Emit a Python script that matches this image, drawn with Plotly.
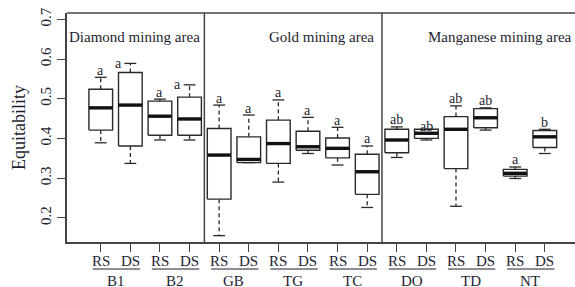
import plotly.graph_objects as go

# ---------------- data ----------------
groups = ["B1", "B2", "GB", "TG", "TC", "DO", "TD", "NT"]
sites = ["RS", "DS"]
areas = ["Diamond mining area", "Gold mining area", "Manganese mining area"]

whisk_low = [0.389, 0.337, 0.396, 0.396, 0.155, 0.339, 0.290, 0.362,
             0.333, 0.226, 0.352, 0.396, 0.229, 0.421, 0.299, 0.362]
q1 = [0.421, 0.381, 0.408, 0.408, 0.247, 0.339, 0.337, 0.370,
      0.351, 0.259, 0.364, 0.400, 0.324, 0.427, 0.305, 0.377]
median = [0.477, 0.484, 0.456, 0.449, 0.358, 0.347, 0.387, 0.379,
          0.375, 0.316, 0.396, 0.413, 0.423, 0.452, 0.312, 0.404]
q3 = [0.524, 0.566, 0.494, 0.504, 0.425, 0.404, 0.446, 0.418,
      0.401, 0.360, 0.423, 0.423, 0.455, 0.475, 0.322, 0.420]
whisk_high = [0.554, 0.589, 0.499, 0.535, 0.484, 0.459, 0.497, 0.453,
              0.428, 0.381, 0.429, 0.423, 0.482, 0.477, 0.328, 0.423]
letters = ["a", "a", "a", "a", "a", "a", "a", "a",
           "a", "a", "ab", "ab", "ab", "ab", "a", "b"]

# ---------------- style ----------------
FONT = "Liberation Serif"
TXT = "#1e1e30"
LINE = "#2a2a2a"
BOXW = 0.4   # half box width
CAPW = 0.2   # half staple width

n = len(median)
pos = list(range(1, n + 1))

box_x, box_y = [], []
med_x, med_y = [], []
wh_x, wh_y = [], []
cap_x, cap_y = [], []
for i, p in enumerate(pos):
    box_x += [p - BOXW, p + BOXW, p + BOXW, p - BOXW, p - BOXW, None]
    box_y += [q1[i], q1[i], q3[i], q3[i], q1[i], None]
    med_x += [p - BOXW, p + BOXW, None]
    med_y += [median[i], median[i], None]
    wh_x += [p, p, None, p, p, None]
    wh_y += [q3[i], whisk_high[i], None, q1[i], whisk_low[i], None]
    cap_x += [p - CAPW, p + CAPW, None, p - CAPW, p + CAPW, None]
    cap_y += [whisk_high[i], whisk_high[i], None, whisk_low[i], whisk_low[i], None]

fig = go.Figure()
fig.add_trace(go.Scatter(x=wh_x, y=wh_y, mode="lines",
                         line=dict(color=LINE, width=1.3, dash="4px,3px"),
                         hoverinfo="skip", showlegend=False))
fig.add_trace(go.Scatter(x=cap_x, y=cap_y, mode="lines",
                         line=dict(color=LINE, width=1.3),
                         hoverinfo="skip", showlegend=False))
fig.add_trace(go.Scatter(x=box_x, y=box_y, mode="lines", fill="toself",
                         fillcolor="white",
                         line=dict(color=LINE, width=1.4),
                         hoverinfo="skip", showlegend=False))
fig.add_trace(go.Scatter(x=med_x, y=med_y, mode="lines",
                         line=dict(color="#111111", width=3.4),
                         hoverinfo="skip", showlegend=False))

# significance letters
for i, p in enumerate(pos):
    xs, ys = 0, 7
    if i in (1, 3):      # letters set beside the staple
        xs, ys = -12, 0
    if i == 11:
        ys = 3
    fig.add_annotation(x=p, y=whisk_high[i], text=letters[i], showarrow=False,
                       xshift=xs, yshift=ys, font=dict(family=FONT, size=14, color=TXT))

# panel separators
for xv in (4.5, 10.5):
    fig.add_shape(type="line", xref="x", yref="paper", x0=xv, x1=xv, y0=0, y1=1,
                  line=dict(color="#444444", width=1.5))
# top frame line
fig.add_shape(type="line", xref="paper", yref="paper", x0=0, x1=1, y0=1, y1=1,
              line=dict(color="#444444", width=1.5))

# panel titles
fig.add_annotation(xref="paper", yref="paper", x=0, y=0.94, xanchor="left", xshift=0,
                   text=areas[0], showarrow=False, font=dict(family=FONT, size=15, color=TXT))
fig.add_annotation(xref="x", yref="paper", x=10.5, y=0.94, xanchor="right", xshift=-6,
                   text=areas[1], showarrow=False, font=dict(family=FONT, size=15, color=TXT))
fig.add_annotation(xref="paper", yref="paper", x=1, y=0.94, xanchor="right", xshift=-1,
                   text=areas[2], showarrow=False, font=dict(family=FONT, size=15, color=TXT))

# site labels (RS / DS) under each tick
for i, p in enumerate(pos):
    fig.add_annotation(xref="x", yref="paper", x=p, y=-0.085, yanchor="middle",
                       text=sites[i % 2], showarrow=False,
                       font=dict(family=FONT, size=15, color=TXT))

# group labels + underlines
for g, name in enumerate(groups):
    a, b = pos[2 * g], pos[2 * g + 1]
    fig.add_shape(type="line", xref="x", yref="paper", x0=a - 0.27, x1=b + 0.33,
                  y0=-0.118, y1=-0.118, line=dict(color=TXT, width=1))
    fig.add_annotation(xref="x", yref="paper", x=(a + b) / 2, y=-0.17, yanchor="middle",
                       text=name, showarrow=False, font=dict(family=FONT, size=15, color=TXT))

fig.update_layout(
    width=575, height=287,
    margin=dict(l=67, r=0, t=13, b=45),
    paper_bgcolor="white", plot_bgcolor="white",
    showlegend=False,
)
fig.update_xaxes(range=[-0.14, 17.02], tickmode="array", tickvals=pos,
                 showticklabels=False,
                 ticks="outside", ticklen=8, tickwidth=1.2, tickcolor="#444444",
                 showline=True, linecolor="#444444", linewidth=1.5,
                 showgrid=False, zeroline=False)
fig.update_yaxes(range=[0.139, 0.716], tickvals=[0.2, 0.3, 0.4, 0.5, 0.6, 0.7],
                 ticktext=["0.2", "0.3", "0.4", "0.5", "0.6", "0.7"],
                 tickangle=-90,
                 ticks="outside", ticklen=8, tickwidth=1.2, tickcolor="#444444",
                 showline=True, linecolor="#444444", linewidth=1.5,
                 showgrid=False, zeroline=False,
                 tickfont=dict(family=FONT, size=15, color=TXT),
                 title=dict(text="Equitability", standoff=8,
                            font=dict(family=FONT, size=18, color=TXT)))

fig.write_html("out.html", config={"displayModeBar": False},
               post_script="document.body.style.margin='0';")
